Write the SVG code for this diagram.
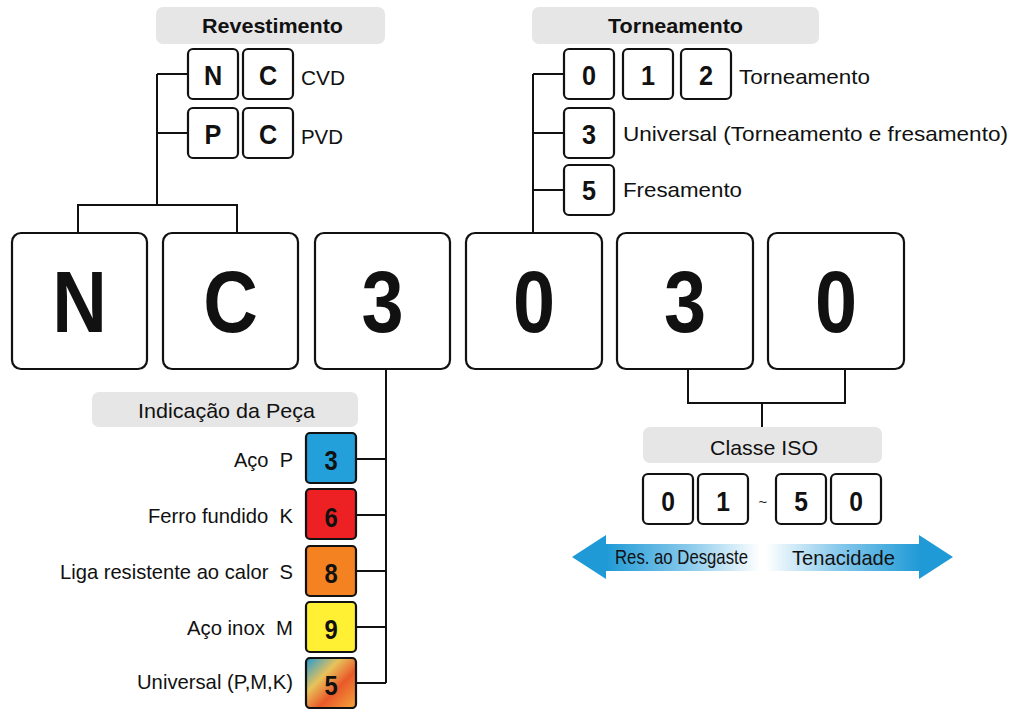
<svg xmlns="http://www.w3.org/2000/svg" width="1015" height="709" viewBox="0 0 1015 709">
<style>
.box{fill:#fff;stroke:#111;stroke-width:2.2}
.lab{fill:#e6e6e6}
.con{fill:none;stroke:#111;stroke-width:2}
.t{font-family:"Liberation Sans",Arial,sans-serif;fill:#111}
.big{font-weight:bold;font-size:88px;text-anchor:middle}
.sd{font-weight:bold;font-size:28px;text-anchor:middle}
.title{font-weight:bold;font-size:21px;text-anchor:middle}
.reg{font-size:21px}
.end{text-anchor:end}
.mid{text-anchor:middle}
</style>
<defs>
<linearGradient id="gU" x1="0" y1="0" x2="1" y2="1">
<stop offset="0" stop-color="#1f9ad6"/>
<stop offset="0.35" stop-color="#e8c25a"/>
<stop offset="0.62" stop-color="#e9592a"/>
<stop offset="1" stop-color="#f4a73a"/>
</linearGradient>
<linearGradient id="gL" gradientUnits="userSpaceOnUse" x1="606" y1="0" x2="760" y2="0">
<stop offset="0" stop-color="#1f9ad6"/>
<stop offset="0.55" stop-color="#8ccbec"/>
<stop offset="1" stop-color="#ffffff"/>
</linearGradient>
<linearGradient id="gR" gradientUnits="userSpaceOnUse" x1="766" y1="0" x2="920" y2="0">
<stop offset="0" stop-color="#ffffff"/>
<stop offset="0.45" stop-color="#8ccbec"/>
<stop offset="1" stop-color="#1f9ad6"/>
</linearGradient>
</defs>

<g id="connectors">
<path class="con" d="M157,74 H188 M157,133 H188 M157,74 V205 M78,233 V205 H237 V233"/>
<path class="con" d="M533,74 H564 M533,133 H564 M533,190 H564 M533,74 V233"/>
<path class="con" d="M386,369 V683 M356,459 H386 M356,515 H386 M356,571 H386 M356,627 H386 M356,683 H386"/>
<path class="con" d="M688,369 V403 H845 V369 M762,403 V427"/>
</g>

<g id="big-boxes">
<g id="b-N"><rect class="box" x="12" y="233" width="135" height="136" rx="9"/><text class="t big" transform="translate(79.5,332) scale(0.86,1)">N</text></g>
<g id="b-C"><rect class="box" x="163" y="233" width="135" height="136" rx="9"/><text class="t big" transform="translate(230.5,332) scale(0.86,1)">C</text></g>
<g id="b-3"><rect class="box" x="315" y="233" width="135" height="136" rx="9"/><text class="t big" transform="translate(382.5,332) scale(0.86,1)">3</text></g>
<g id="b-0a"><rect class="box" x="466" y="233" width="136" height="136" rx="9"/><text class="t big" transform="translate(534,332) scale(0.86,1)">0</text></g>
<g id="b-3b"><rect class="box" x="617" y="233" width="136" height="136" rx="9"/><text class="t big" transform="translate(685,332) scale(0.86,1)">3</text></g>
<g id="b-0b"><rect class="box" x="768" y="233" width="136" height="136" rx="9"/><text class="t big" transform="translate(836,332) scale(0.86,1)">0</text></g>
</g>

<g id="revestimento">
<rect class="lab" x="156" y="7" width="229" height="37" rx="7"/>
<text class="t title" x="272.5" y="33" textLength="141" lengthAdjust="spacingAndGlyphs">Revestimento</text>
<rect class="box" x="188" y="49" width="50" height="50" rx="5"/><text class="t sd" transform="translate(213,85) scale(0.9,1)">N</text>
<rect class="box" x="243" y="49" width="50" height="50" rx="5"/><text class="t sd" transform="translate(268,85) scale(0.9,1)">C</text>
<text class="t reg" x="301" y="85" textLength="44" lengthAdjust="spacingAndGlyphs">CVD</text>
<rect class="box" x="188" y="108" width="50" height="50" rx="5"/><text class="t sd" transform="translate(213,144) scale(0.9,1)">P</text>
<rect class="box" x="243" y="108" width="50" height="50" rx="5"/><text class="t sd" transform="translate(268,144) scale(0.9,1)">C</text>
<text class="t reg" x="301" y="144" textLength="42" lengthAdjust="spacingAndGlyphs">PVD</text>
</g>

<g id="torneamento">
<rect class="lab" x="532" y="7" width="287" height="37" rx="7"/>
<text class="t title" x="675.5" y="33" textLength="135" lengthAdjust="spacingAndGlyphs">Torneamento</text>
<rect class="box" x="564" y="49" width="50" height="50" rx="5"/><text class="t sd" transform="translate(589,85) scale(0.9,1)">0</text>
<rect class="box" x="623" y="49" width="50" height="50" rx="5"/><text class="t sd" transform="translate(648,85) scale(0.9,1)">1</text>
<rect class="box" x="681" y="49" width="50" height="50" rx="5"/><text class="t sd" transform="translate(706,85) scale(0.9,1)">2</text>
<text class="t reg" x="739" y="84" font-size="22" textLength="131" lengthAdjust="spacingAndGlyphs">Torneamento</text>
<rect class="box" x="564" y="108" width="50" height="50" rx="5"/><text class="t sd" transform="translate(589,144) scale(0.9,1)">3</text>
<text class="t reg" x="623" y="141" font-size="22" textLength="385" lengthAdjust="spacingAndGlyphs">Universal (Torneamento e fresamento)</text>
<rect class="box" x="564" y="165" width="50" height="50" rx="5"/><text class="t sd" transform="translate(589,200) scale(0.9,1)">5</text>
<text class="t reg" x="623" y="197" font-size="22" textLength="119" lengthAdjust="spacingAndGlyphs">Fresamento</text>
</g>

<g id="indicacao">
<rect class="lab" x="92" y="392" width="266" height="35" rx="7"/>
<text class="t reg" x="138" y="418" textLength="177" lengthAdjust="spacingAndGlyphs">Indicação da Peça</text>
<g id="p-P"><text class="t reg" x="234" y="467" textLength="59" lengthAdjust="spacingAndGlyphs">Aço&#160; P</text><rect class="box" x="306" y="433" width="50" height="50" rx="4" style="fill:#239fd9"/><text class="t sd" transform="translate(331,470) scale(0.85,1)" font-size="31">3</text></g>
<g id="p-K"><text class="t reg" x="148" y="523" textLength="145" lengthAdjust="spacingAndGlyphs">Ferro fundido&#160; K</text><rect class="box" x="306" y="489" width="50" height="50" rx="4" style="fill:#ed2024"/><text class="t sd" transform="translate(331,527) scale(0.85,1)" font-size="31">6</text></g>
<g id="p-S"><text class="t reg" x="60" y="579" textLength="233" lengthAdjust="spacingAndGlyphs">Liga resistente ao calor&#160; S</text><rect class="box" x="306" y="546" width="50" height="50" rx="4" style="fill:#f58220"/><text class="t sd" transform="translate(331,583) scale(0.85,1)" font-size="31">8</text></g>
<g id="p-M"><text class="t reg" x="187" y="635" textLength="106" lengthAdjust="spacingAndGlyphs">Aço inox&#160; M</text><rect class="box" x="306" y="602" width="50" height="50" rx="4" style="fill:#fff033"/><text class="t sd" transform="translate(331,639) scale(0.85,1)" font-size="31">9</text></g>
<g id="p-U"><text class="t reg" x="137" y="689" textLength="156" lengthAdjust="spacingAndGlyphs">Universal (P,M,K)</text><rect class="box" x="306" y="658" width="50" height="50" rx="4" style="fill:url(#gU)"/><text class="t sd" transform="translate(331,695) scale(0.85,1)" font-size="31">5</text></g>
</g>

<g id="classe-iso">
<rect class="lab" x="643" y="427" width="239" height="36" rx="7"/>
<text class="t reg" x="710" y="455" textLength="108" lengthAdjust="spacingAndGlyphs">Classe ISO</text>
<rect class="box" x="643" y="474" width="50" height="50" rx="5"/><text class="t sd" transform="translate(668,511) scale(0.88,1)" font-size="30">0</text>
<rect class="box" x="698" y="474" width="50" height="50" rx="5"/><text class="t sd" transform="translate(723,511) scale(0.88,1)" font-size="30">1</text>
<text class="t mid" x="763" y="507" font-size="15">~</text>
<rect class="box" x="776" y="474" width="50" height="50" rx="5"/><text class="t sd" transform="translate(801,511) scale(0.88,1)" font-size="30">5</text>
<rect class="box" x="831" y="474" width="50" height="50" rx="5"/><text class="t sd" transform="translate(856,511) scale(0.88,1)" font-size="30">0</text>
</g>

<g id="arrows">
<path d="M572,557 L606,535 V544 H760 V571 H606 V579 Z" fill="url(#gL)"/>
<path d="M953,557 L919,535 V544 H766 V571 H919 V579 Z" fill="url(#gR)"/>
<text class="t reg" x="615" y="564" font-size="22" textLength="133" lengthAdjust="spacingAndGlyphs">Res. ao Desgaste</text>
<text class="t reg" x="792" y="565" font-size="22" textLength="103" lengthAdjust="spacingAndGlyphs">Tenacidade</text>
</g>
</svg>
